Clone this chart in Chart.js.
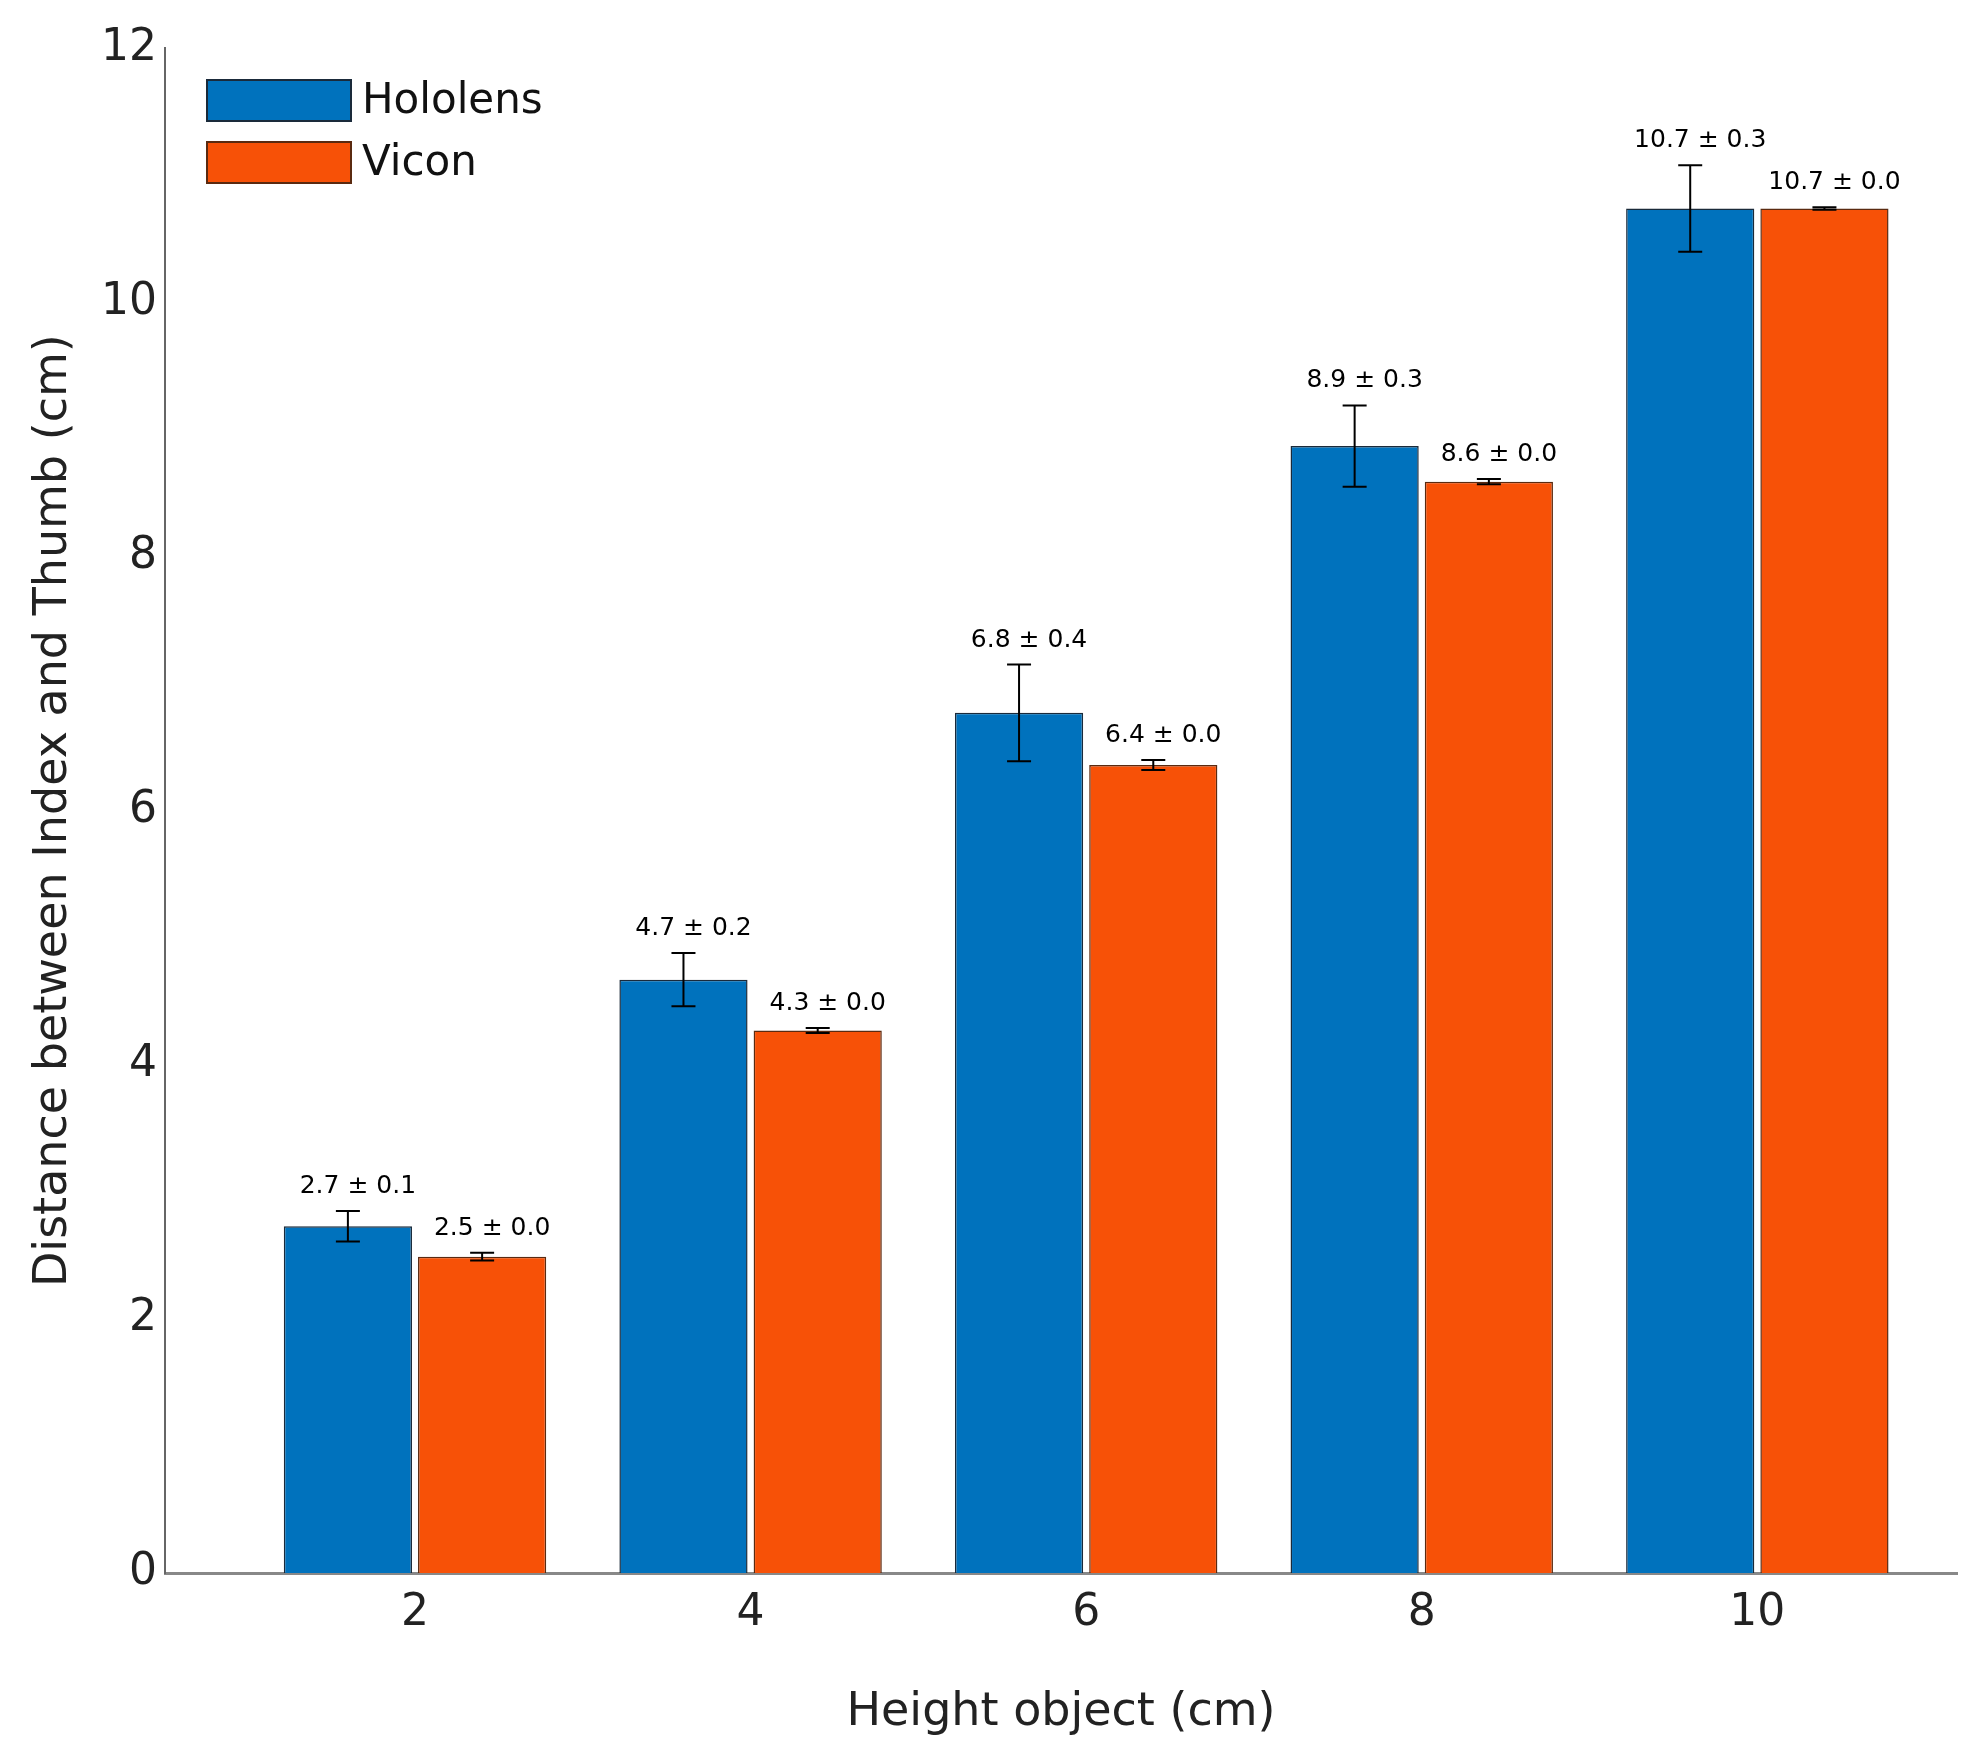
<!DOCTYPE html><html><head><meta charset="utf-8">
<script src="https://cdn.jsdelivr.net/npm/chart.js@4"></script>
<style>html,body{margin:0;padding:0;background:#fff}</style></head><body>
<canvas id="c" width="1979" height="1745" style="width:1979px;height:1745px"></canvas>
<script>
const heights = [2, 4, 6, 8, 10];
const hololensMean = [2.73, 4.67, 6.77, 8.87, 10.74];
const hololensSd = [0.12, 0.21, 0.38, 0.32, 0.34];
const viconMean = [2.49, 4.27, 6.36, 8.59, 10.74];
const viconSd = [0.03, 0.02, 0.04, 0.02, 0.01];
const hololensLabels = ["2.7 ± 0.1", "4.7 ± 0.2", "6.8 ± 0.4", "8.9 ± 0.3", "10.7 ± 0.3"];
const viconLabels = ["2.5 ± 0.0", "4.3 ± 0.0", "6.4 ± 0.0", "8.6 ± 0.0", "10.7 ± 0.0"];
const yTicks = [0, 2, 4, 6, 8, 10, 12];
const FONT = "'DejaVu Sans', Verdana, sans-serif";

const errPlugin = {
  id: 'err',
  afterDatasetsDraw(chart) {
    const ctx = chart.ctx, y = chart.scales.y;
    const sets = [[hololensSd, hololensLabels], [viconSd, viconLabels]];
    sets.forEach(([sd, labels], di) => {
      const meta = chart.getDatasetMeta(di);
      meta.data.forEach((bar, i) => {
        const v = chart.data.datasets[di].data[i].y;
        const top = y.getPixelForValue(v + sd[i]), bot = y.getPixelForValue(v - sd[i]);
        ctx.save();
        ctx.strokeStyle = '#000'; ctx.lineWidth = 2;
        ctx.beginPath();
        ctx.moveTo(bar.x, top); ctx.lineTo(bar.x, bot);
        ctx.moveTo(bar.x - 12, top); ctx.lineTo(bar.x + 12, top);
        ctx.moveTo(bar.x - 12, bot); ctx.lineTo(bar.x + 12, bot);
        ctx.stroke();
        ctx.fillStyle = '#000'; ctx.font = '25px ' + FONT;
        ctx.textAlign = 'center'; ctx.textBaseline = 'bottom';
        ctx.fillText(labels[i], bar.x + 10, top - 12);
        ctx.restore();
      });
    });
  }
};
const legendPlugin = {
  id: 'leg',
  afterDraw(chart) {
    const ctx = chart.ctx;
    const items = [[chart.data.datasets[0], 80], [chart.data.datasets[1], 142]];
    ctx.save();
    items.forEach(([ds, yy]) => {
      ctx.fillStyle = ds.backgroundColor;
      ctx.fillRect(207, yy, 144, 41);
      ctx.strokeStyle = ds.borderColor; ctx.lineWidth = 2;
      ctx.strokeRect(207, yy, 144, 41);
      ctx.fillStyle = '#111'; ctx.font = '42px ' + FONT;
      ctx.textBaseline = 'middle'; ctx.textAlign = 'left';
      ctx.fillText(ds.label, 362, yy + 22);
    });
    ctx.restore();
  }
};

new Chart(document.getElementById('c'), {
  type: 'bar',
  data: {
    datasets: [
      { label: 'Hololens', data: heights.map((h, i) => ({ x: h, y: hololensMean[i] })),
        backgroundColor: '#0072BD', borderColor: '#1a2a3a', borderWidth: 1.5 },
      { label: 'Vicon', data: heights.map((h, i) => ({ x: h, y: viconMean[i] })),
        backgroundColor: '#F75107', borderColor: '#5a2a10', borderWidth: 1.5 }
    ]
  },
  plugins: [errPlugin, legendPlugin],
  options: {
    responsive: false, animation: false, devicePixelRatio: 1,
    layout: { padding: { top: 28, right: 22, left: 22, bottom: 0 } },
    plugins: { legend: { display: false }, tooltip: { enabled: false } },
    datasets: { bar: { categoryPercentage: 0.8, barPercentage: 0.955 } },
    scales: {
      x: {
        type: 'linear', min: 0.51, max: 11.19, offset: false,
        afterBuildTicks(s) { s.ticks = heights.map(v => ({ value: v })); },
        afterFit(s) { s.height = 172; },
        grid: { display: false, drawTicks: false },
        border: { color: '#888', width: 3 },
        ticks: { color: '#222', font: { size: 44, family: FONT }, padding: 14, autoSkip: false },
        title: { display: true, text: 'Height object (cm)', color: '#222', font: { size: 46, family: FONT }, padding: { top: 40 } }
      },
      y: {
        min: 0, max: 12,
        afterBuildTicks(s) { s.ticks = yTicks.map(v => ({ value: v })); },
        afterFit(s) { s.width = 143; },
        grid: { display: false, drawTicks: true, tickLength: -14, color: '#666' },
        border: { color: '#666', width: 2 },
        ticks: { color: '#222', font: { size: 44, family: FONT }, padding: 22 },
        title: { display: true, text: 'Distance between Index and Thumb (cm)', color: '#222', font: { size: 46, family: FONT }, padding: { bottom: 6 } }
      }
    }
  }
});
</script></body></html>
